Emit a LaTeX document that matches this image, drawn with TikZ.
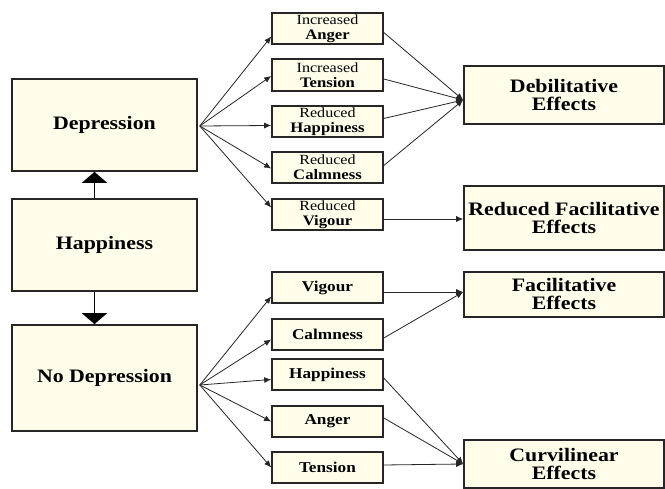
\documentclass[tikz,border=0pt]{standalone}
\usepackage{fontspec}
\setmainfont{Liberation Serif}[FakeStretch=1.15]
\usetikzlibrary{arrows.meta,calc}
\definecolor{boxfill}{RGB}{254,254,234}
\definecolor{boxline}{RGB}{38,38,38}
\begin{document}
\begin{tikzpicture}[x=1pt,y=-1pt,
  box/.style={draw=boxline, line width=1.6pt, fill=boxfill, inner sep=0pt, align=center},
  leftbox/.style={box, minimum width=185pt, font=\fontsize{19}{19}\selectfont\bfseries},
  midbox/.style={box, minimum width=111pt, minimum height=31pt, font=\fontsize{15}{15}\selectfont\bfseries},
  effbox/.style={box, minimum width=200pt, font=\fontsize{19}{18}\selectfont\bfseries},
  conn/.style={line width=0.8pt, draw=black!85, -{Latex[length=7pt,width=6pt]}},
  bigconn/.style={line width=1.4pt, -{Triangle[length=11pt,width=25pt]}}]
\newcommand{\twoline}[2]{{\fontsize{14}{15}\selectfont\mdseries #1}\\{\fontsize{14.5}{15}\selectfont #2}}
\useasboundingbox (0,0) rectangle (665,489);
\fill[white] (0,0) rectangle (665,489);

% left column
\node[leftbox, minimum height=92pt] (dep) at (104.5,125) {Depression};
\node[leftbox, minimum height=92pt] (hap) at (104.5,245) {Happiness};
\node[leftbox, minimum height=106pt] (nodep) at (104.5,378) {No Depression};

% middle column, upper group
\node[midbox] (ia) at (327.5,28.5) {\twoline{Increased}{Anger}};
\node[midbox, minimum height=32pt] (it) at (327.5,75) {\twoline{Increased}{Tension}};
\node[midbox] (rh) at (327.5,121.5) {\twoline{Reduced}{Happiness}};
\node[midbox] (rc) at (327.5,167.5) {\twoline{Reduced}{Calmness}};
\node[midbox] (rv) at (327.5,214.5) {\twoline{Reduced}{Vigour}};

% middle column, lower group
\node[midbox] (v) at (327.5,287.5) {Vigour};
\node[midbox] (c) at (327.5,334.5) {Calmness};
\node[midbox] (h) at (327.5,374.5) {Happiness};
\node[midbox] (a) at (327.5,421.5) {Anger};
\node[midbox] (t) at (327.5,467.5) {Tension};

% effects column
\node[effbox, minimum height=58pt] (deb) at (564,95) {Debilitative\\Effects};
\node[effbox, minimum height=64pt] (rfe) at (564,218) {Reduced Facilitative\\Effects};
\node[effbox, minimum height=45pt] (fe) at (564,294.5) {Facilitative\\Effects};
\node[effbox, minimum height=48pt] (cur) at (564,464) {Curvilinear\\Effects};

% happiness splits up and down
\draw[bigconn] ($(hap.north)+(-10,0)$) -- ($(dep.south)+(-10,0)$);
\draw[bigconn] ($(hap.south)+(-10,0)$) -- ($(nodep.north)+(-10,0)$);

% fan out from depression
\coordinate (dsrc) at ($(dep.east)+(2,1)$);
\draw[conn] (dsrc) -- ($(ia.west)+(0,8)$);
\draw[conn] (dsrc) -- ($(it.west)+(0,1)$);
\draw[conn] (dsrc) -- ($(rh.west)+(0,4)$);
\draw[conn] (dsrc) -- ($(rc.west)+(0,1)$);
\draw[conn] (dsrc) -- ($(rv.west)+(0,-7)$);

% fan out from no depression
\coordinate (nsrc) at ($(nodep.east)+(2,7)$);
\draw[conn] (nsrc) -- ($(v.west)+(0,9)$);
\draw[conn] (nsrc) -- ($(c.west)+(0,5)$);
\draw[conn] (nsrc) -- ($(h.west)+(0,5)$);
\draw[conn] (nsrc) -- (a.west);
\draw[conn] (nsrc) -- (t.west);

% converging on the effects
\coordinate (debin) at ($(deb.west)+(0,5)$);
\draw[conn] ($(ia.east)+(0,4)$) -- (debin);
\draw[conn] ($(it.east)+(0,4)$) -- (debin);
\draw[conn] ($(rh.east)+(0,-3)$) -- (debin);
\draw[conn] ($(rc.east)+(0,-2)$) -- (debin);
\draw[conn] ($(rv.east)+(0,4.5)$) -- ($(rfe.west)+(0,1)$);

\coordinate (fein) at ($(fe.west)+(0,-2.5)$);
\draw[conn] ($(v.east)+(0,4.5)$) -- (fein);
\draw[conn] ($(c.east)+(0,3.5)$) -- (fein);

\coordinate (curin) at (cur.west);
\draw[conn] ($(h.east)+(0,3.5)$) -- (curin);
\draw[conn] ($(a.east)+(0,-3.5)$) -- (curin);
\draw[conn] ($(t.east)+(0,-2.5)$) -- (curin);
\end{tikzpicture}
\end{document}
